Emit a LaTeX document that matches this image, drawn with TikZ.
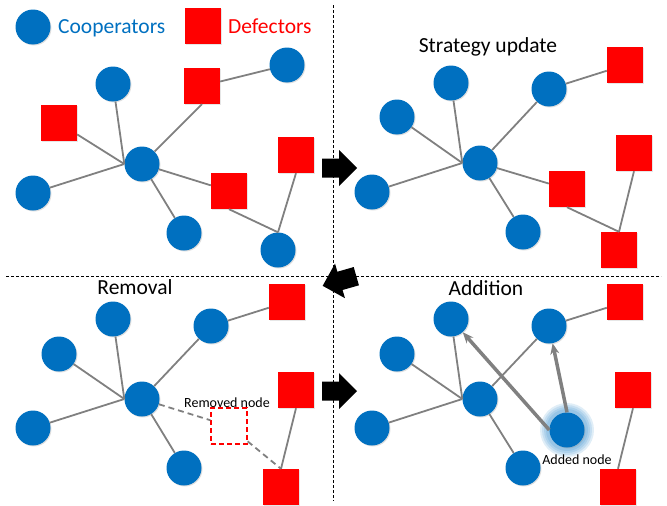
\documentclass[tikz,border=0pt]{standalone}
\usepackage{fontspec}
\setmainfont{Carlito}
\usetikzlibrary{arrows.meta}
\usetikzlibrary{shadows}
\definecolor{coopblue}{RGB}{0,112,192}
\definecolor{linkgray}{RGB}{128,128,128}

\begin{document}
\begin{tikzpicture}[x=1pt, y=-1pt,
        coop/.style={circle, fill=coopblue, minimum size=35pt, inner sep=0pt,
            drop shadow={opacity=0.25, shadow xshift=1pt, shadow yshift=-1pt}},
        defect/.style={rectangle, fill=red, minimum size=36pt, inner sep=0pt,
            drop shadow={opacity=0.2, shadow xshift=1pt, shadow yshift=-1pt}},
        gone/.style={rectangle, draw=red, line width=1.3pt, minimum size=36pt, inner sep=0pt,
            dash pattern=on 5pt off 3pt},
        link/.style={draw=linkgray, line width=1.8pt},
        cut/.style={link, dash pattern=on 6pt off 4pt},
        newlink/.style={draw=linkgray, line width=3.5pt, -{Stealth[length=11pt, width=9pt]}},
        title/.style={font=\fontsize{21.5}{25}\selectfont, inner sep=0pt, anchor=base},
        small/.style={font=\fontsize{14}{16}\selectfont, inner sep=0pt, anchor=base},
        divider/.style={dash pattern=on 3pt off 2pt, line width=0.8pt},
        blockarrow/.pic={\fill (-17.5,-9.5) -- (-0.5,-9.5) -- (-0.5,-18) -- (17.5,0)
            -- (-0.5,18) -- (-0.5,9.5) -- (-17.5,9.5) -- cycle;}]
        \useasboundingbox (0,0) rectangle (667,506);

        % Dividers
        \draw[divider] (333,5) -- (333,501);
        \draw[divider] (6,276) -- (661,276);

        % Legend
        \node[coop] (legC) at (33,27) {};
        \node[title, anchor=base west, text=coopblue] (legCtext) at (58,34) {Cooperators};
        \node[defect] (legD) at (203,26) {};
        \node[title, anchor=base west, text=red] (legDtext) at (228,34) {Defectors};

        % Initial network
        \node[coop] (A0) at (142,164) {};
        \node[defect] (A1) at (59,123) {};
        \node[coop] (A2) at (113,84) {};
        \node[defect] (A3) at (202,86) {};
        \node[coop] (A4) at (287,65) {};
        \node[coop] (A5) at (33,193) {};
        \node[defect] (A6) at (229,191) {};
        \node[coop] (A7) at (184,233) {};
        \node[defect] (A8) at (296,155) {};
        \node[coop] (A9) at (278,250) {};
        \foreach \u/\v in {A1/A0.west, A2/A0.west, A5/A0.west, A0/A3.south, A3/A4,
                A0/A6, A0/A7, A6.south/A9.north, A8.south/A9.north} {
            \draw[link] (\u) -- (\v);
        }

        % Strategy update
        \node[title] (tUpdate) at (488,52) {Strategy update};
        \node[coop] (B0) at (480,163) {};
        \node[coop] (B1) at (397,117) {};
        \node[coop] (B2) at (451,83) {};
        \node[coop] (B3) at (549,89) {};
        \node[defect] (B4) at (625,65) {};
        \node[coop] (B5) at (372,192) {};
        \node[defect] (B6) at (567,189) {};
        \node[coop] (B7) at (523,232) {};
        \node[defect] (B8) at (634,153) {};
        \node[defect] (B9) at (619,250) {};
        \foreach \u/\v in {B1/B0.west, B2/B0.west, B5/B0.west, B0/B3, B3/B4,
                B0/B6, B0/B7, B6.south/B9.north, B8.south/B9.north} {
            \draw[link] (\u) -- (\v);
        }

        % Removal
        \node[title] (tRemoval) at (135,294) {Removal};
        \node[coop] (R0) at (142,399) {};
        \node[coop] (R1) at (59,354) {};
        \node[coop] (R2) at (113,319) {};
        \node[coop] (R3) at (211,326) {};
        \node[defect] (R4) at (287,302) {};
        \node[coop] (R5) at (33,428) {};
        \node[gone] (R6) at (229,426) {};
        \node[coop] (R7) at (184,468) {};
        \node[defect] (R8) at (296,390) {};
        \node[defect] (R9) at (281,487) {};
        \foreach \u/\v in {R1/R0.west, R2/R0.west, R5/R0.west, R0/R3, R3/R4,
                R0/R7, R8.south/R9.north} {
            \draw[link] (\u) -- (\v);
        }
        \draw[cut] (R0) -- (R6);
        \draw[cut] (R6) -- (R9.north);
        \node[small] (tRemoved) at (227,407) {Removed node};

        % Addition
        \node[title] (tAddition) at (486,295) {Addition};
        \foreach \r in {27,25,23,21} {
            \fill[coopblue, opacity=0.12] (567,430) circle (\r);
        }
        \node[coop] (N0) at (480,399) {};
        \node[coop] (N1) at (397,354) {};
        \node[coop] (N2) at (451,319) {};
        \node[coop] (N3) at (549,326) {};
        \node[defect] (N4) at (625,302) {};
        \node[coop] (N5) at (372,428) {};
        \node[coop] (N6) at (567,430) {};
        \node[coop] (N7) at (523,468) {};
        \node[defect] (N8) at (633,390) {};
        \node[defect] (N9) at (618,487) {};
        \foreach \u/\v in {N1/N0.west, N2/N0.west, N5/N0.west, N0/N3, N3/N4,
                N0/N7, N8.south/N9.north} {
            \draw[link] (\u) -- (\v);
        }
        \draw[newlink] (N6.west) -- (N2);
        \draw[newlink] (N6.north) -- (N3);
        \node[small] (tAdded) at (577,464) {Added node};

        % Step arrows
        \pic at (339.5,168) {blockarrow};
        \pic[rotate=196] at (339.5,281) {blockarrow};
        \pic at (339.5,391) {blockarrow};
\end{tikzpicture}
\end{document}
